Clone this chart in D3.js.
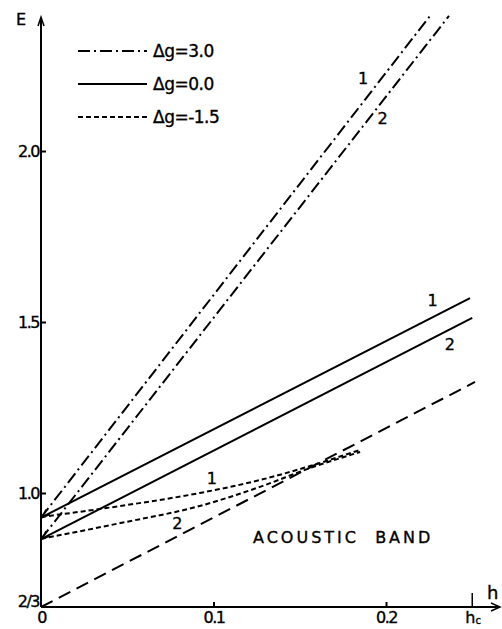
<!DOCTYPE html>
<html>
<head>
<meta charset="utf-8">
<script src="https://cdn.jsdelivr.net/npm/d3@7"></script>
<style>
  body { margin: 0; background: #fff; }
  svg { display: block; font-family: "DejaVu Sans", sans-serif; }
  svg text { stroke: #000; stroke-width: 0.35; }
</style>
</head>
<body>
<svg id="chart" width="502" height="629"></svg>
<script>
// --- data (h, E) ---
const yTicks = [2 / 3, 1.0, 1.5, 2.0];
const yTickLabels = ["2/3", "1.0", "1.5", "2.0"];
const xTicks = [0, 0.1, 0.2];
const xTickLabels = ["0", "0.1", "0.2"];
const hc = 0.25;

// dg = 3.0 (dash-dot)
const dg30_1 = [[0, 0.928], [0.2255, 2.395]];
const dg30_2 = [[0, 0.865], [0.2365, 2.395]];
// dg = 0.0 (solid)
const dg00_1 = [[0, 0.928], [0.2487, 1.570]];
const dg00_2 = [[0, 0.865], [0.2500, 1.512]];
// dg = -1.5 (short dashes)
const dgm15_1 = [[0, 0.930], [0.046, 0.962], [0.092, 1.000], [0.127, 1.038], [0.156, 1.079], [0.185, 1.126]];
const dgm15_2 = [[0, 0.866], [0.046, 0.912], [0.092, 0.962], [0.127, 1.018], [0.156, 1.073], [0.185, 1.120]];
// acoustic band edge (long dashes)
const bandEdge = [[0, 2 / 3], [0.2516, 1.3246]];

const legendNames = ["\u0394g=3.0", "\u0394g=0.0", "\u0394g=-1.5"];
const dashes = ["12,4,2,4", null, "5,3"];

const svg = d3.select("#chart");
const x = d3.scaleLinear().domain([0, 0.2]).range([41, 386]);
const y = d3.scaleLinear().domain([2 / 3, 2.0]).range([607, 151]);

const line = d3.line().x(d => x(d[0])).y(d => y(d[1]));
const curve = d3.line().x(d => x(d[0])).y(d => y(d[1])).curve(d3.curveMonotoneX);

// axes
const yAxis = d3.axisLeft(y).tickValues(yTicks).tickSize(-5).tickPadding(2)
  .tickFormat((d, i) => yTickLabels[i]);
const gy = svg.append("g").attr("transform", "translate(41,0)").call(yAxis)
  .attr("font-size", 16).attr("font-family", null);
gy.select(".domain").remove();
gy.selectAll(".tick line").attr("stroke-width", 2);
gy.selectAll(".tick text").attr("letter-spacing", -1.5);
// 2/3 sits in the corner: no tick, label nudged up
const corner = gy.selectAll(".tick").filter((d, i) => i === 0);
corner.select("line").remove();
corner.select("text").attr("dy", "-0.05em");

const xAxis = d3.axisBottom(x).tickValues(xTicks).tickSize(-5).tickPadding(5)
  .tickFormat((d, i) => xTickLabels[i]);
const gx = svg.append("g").attr("transform", "translate(0,607)").call(xAxis)
  .attr("font-size", 16).attr("font-family", null);
gx.select(".domain").remove();
gx.selectAll(".tick line").attr("stroke-width", 2);
gx.selectAll(".tick").filter((d, i) => i === 0).select("line").remove();
gx.selectAll(".tick text").attr("letter-spacing", -1.5);

// axis lines with arrows
svg.append("line").attr("x1", 41).attr("y1", 607).attr("x2", 41).attr("y2", 18)
  .attr("stroke", "#000").attr("stroke-width", 2);
svg.append("path").attr("d", "M38,26 L41,17 L44,26").attr("fill", "none").attr("stroke", "#000").attr("stroke-width", 1.5);
svg.append("line").attr("x1", 41).attr("y1", 607).attr("x2", 499).attr("y2", 607)
  .attr("stroke", "#000").attr("stroke-width", 2);
svg.append("path").attr("d", "M491,603 L500,607 L491,611").attr("fill", "none").attr("stroke", "#000").attr("stroke-width", 1.5);

// hc tick
svg.append("line").attr("x1", x(hc)).attr("x2", x(hc)).attr("y1", 607).attr("y2", 593)
  .attr("stroke", "#000").attr("stroke-width", 1.5);
const hcText = svg.append("text").attr("x", x(hc) - 7).attr("y", 623).attr("font-size", 16);
hcText.append("tspan").text("h");
hcText.append("tspan").attr("font-size", 10).attr("dy", 1).text("c");

svg.append("text").attr("x", 487).attr("y", 599).attr("font-size", 18).text("h");
svg.append("text").attr("x", 16).attr("y", 25).attr("font-size", 16).text("E");

// curves
const series = [
  { d: dg30_1, dash: dashes[0], gen: line },
  { d: dg30_2, dash: dashes[0], gen: line },
  { d: dg00_1, dash: dashes[1], gen: line },
  { d: dg00_2, dash: dashes[1], gen: line },
  { d: dgm15_1, dash: dashes[2], gen: curve },
  { d: dgm15_2, dash: dashes[2], gen: curve },
  { d: bandEdge, dash: "13,7", gen: line }
];
svg.append("g").selectAll("path").data(series).join("path")
  .attr("d", s => s.gen(s.d))
  .attr("fill", "none")
  .attr("stroke", "#000")
  .attr("stroke-width", 2)
  .attr("stroke-dasharray", s => s.dash);

// small arrowheads where the curves meet the axis
[dg00_1[0], dg00_2[0]].forEach(p => {
  const px = x(p[0]), py = y(p[1]);
  svg.append("path")
    .attr("d", `M${px + 9},${py - 3} L${px + 1},${py} L${px + 5},${py - 8}`)
    .attr("fill", "none").attr("stroke", "#000").attr("stroke-width", 1.5);
});

// curve numbers
const numLabels = [
  { t: "1", h: 0.1867, e: 2.213 }, { t: "2", h: 0.198, e: 2.097 },
  { t: "1", h: 0.227, e: 1.564 }, { t: "2", h: 0.237, e: 1.436 },
  { t: "1", h: 0.099, e: 1.044 }, { t: "2", h: 0.079, e: 0.912 }
];
svg.append("g").selectAll("text").data(numLabels).join("text")
  .attr("x", d => x(d.h)).attr("y", d => y(d.e) + 6)
  .attr("text-anchor", "middle").attr("font-size", 16).text(d => d.t);

// legend
const lg = svg.append("g");
legendNames.forEach((name, i) => {
  const ly = 51 + i * 33;
  lg.append("line").attr("x1", 78).attr("x2", 147).attr("y1", ly).attr("y2", ly)
    .attr("stroke", "#000").attr("stroke-width", 2).attr("stroke-dasharray", dashes[i]);
  lg.append("text").attr("x", 153).attr("y", ly + 6).attr("font-size", 17)
    .attr("letter-spacing", -0.5).text(name);
});

svg.append("text").attr("x", 253).attr("y", 543).attr("font-size", 16)
  .attr("letter-spacing", 3).attr("xml:space", "preserve").text("ACOUSTIC  BAND");
</script>
</body>
</html>
